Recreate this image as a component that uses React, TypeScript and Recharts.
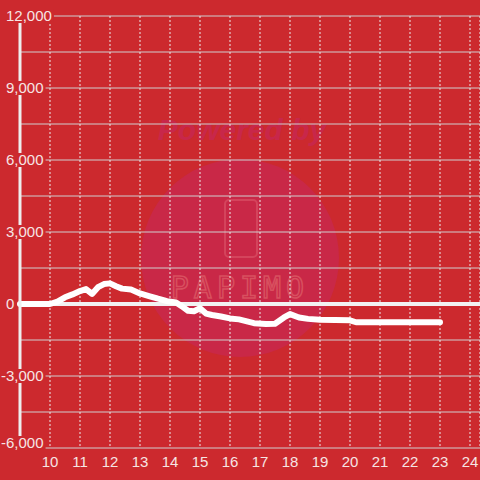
import { LineChart, Line, XAxis, YAxis, CartesianGrid, ReferenceLine } from 'recharts';

// hours of day (decimal) and balance readings
const HOURS = [
  9, 10, 10.25, 10.5, 10.75, 11, 11.2, 11.4, 11.6, 11.8, 12, 12.2, 12.4, 12.7,
  13, 13.3, 13.6, 13.9, 14.2, 14.4, 14.6, 14.8, 15, 15.2, 15.4, 15.7, 16, 16.3,
  16.5, 16.8, 17.2, 17.5, 17.8, 18, 18.3, 18.6, 19, 19.5, 20, 20.2, 21, 22, 23,
];
const VALUES = [
  0, 0, 100, 280, 400, 540, 620, 420, 700, 830, 860, 740, 640, 600,
  440, 330, 220, 120, 60, -100, -280, -300, -180, -400, -460, -520, -600, -640,
  -700, -800, -830, -820, -560, -420, -560, -620, -660, -670, -680, -760, -760, -760, -760,
];
const X_TICKS = [10, 11, 12, 13, 14, 15, 16, 17, 18, 19, 20, 21, 22, 23, 24];
const Y_TICKS = [-6000, -4500, -3000, -1500, 0, 1500, 3000, 4500, 6000, 7500, 9000, 10500, 12000];

const data = HOURS.map((h, i) => ({ h, v: VALUES[i] }));

const BG = '#cc292e';
const LABEL = '#f6e4e4';

// rough Liberation Sans advance widths at 15px
function textWidth(s: string) {
  let w = 0;
  for (const c of s) w += c === ',' ? 4.2 : c === '-' ? 5 : 8.34;
  return w;
}

function YTick(props: any) {
  const { y, payload } = props;
  const val = payload.value as number;
  if (val % 3000 !== 0) return <g />;
  const label = val.toLocaleString('en-US');
  const neg = val < 0;
  const ty = Math.min(y, 443);
  const tx = neg ? 1 : 6;
  const w = textWidth(label);
  return (
    <g>
      <rect x={0} y={ty - 7} width={tx + w + 2} height={14} fill={BG} />
      <text x={tx} y={ty} dy="0.36em" fill={LABEL} fontSize={15} textAnchor="start"
        fontFamily="'Liberation Sans', Arial, sans-serif">
        {label}
      </text>
    </g>
  );
}

function Watermark() {
  return (
    <svg width={480} height={480} style={{ position: 'absolute', left: 0, top: 0 }}>
      <rect width={480} height={480} fill={BG} />
      <circle cx={240} cy={258} r={99} fill="#c92847" />
      <text x={242} y={140} textAnchor="middle" fontSize={30} fontWeight="bold" fontStyle="italic"
        fill="#c8274a" fontFamily="'Liberation Sans', Arial, sans-serif">Powered by</text>
      <rect x={225} y={200} width={32} height={57} rx={4} fill="none" stroke="#d4445c" strokeWidth={2} />
      <text x={240} y={298} textAnchor="middle" fontSize={30} letterSpacing={5}
        fill="none" stroke="#d8505f" strokeWidth={1.5}
        fontFamily="'DejaVu Sans Mono', monospace">PAPIMO</text>
    </svg>
  );
}

export default function App() {
  return (
    <div style={{ position: 'absolute', left: 0, top: 0, width: 480, height: 480, background: BG }}>
      <Watermark />
      <div style={{ position: 'absolute', left: 0, top: 0 }}>
        <LineChart width={480} height={480} data={data}
          margin={{ top: 16, right: 0, left: 0, bottom: 0 }}>
          <CartesianGrid vertical={false} stroke="#cfcfcf" strokeWidth={1} />
          <CartesianGrid horizontal={false} stroke="#ececec" strokeDasharray="2 2" />
          <XAxis
            dataKey="h"
            type="number"
            domain={[9, 24.333]}
            ticks={X_TICKS}
            height={32}
            tickLine={false}
            axisLine={false}
            tick={{ fill: LABEL, fontSize: 15, fontFamily: "'Liberation Sans', Arial, sans-serif" }}
            interval={0}
          />
          <YAxis
            type="number"
            domain={[-6000, 12000]}
            ticks={Y_TICKS}
            width={20}
            tickLine={false}
            axisLine={{ stroke: '#eeeeee', strokeWidth: 3 }}
            tick={YTick}
            interval={0}
          />
          <ReferenceLine y={0} stroke="#f2f2f2" strokeWidth={4} />
          <Line
            type="linear"
            dataKey="v"
            stroke="#ffffff"
            strokeWidth={6}
            strokeLinejoin="round"
            strokeLinecap="round"
            dot={false}
            activeDot={false}
            isAnimationActive={false}
          />
        </LineChart>
      </div>
    </div>
  );
}
